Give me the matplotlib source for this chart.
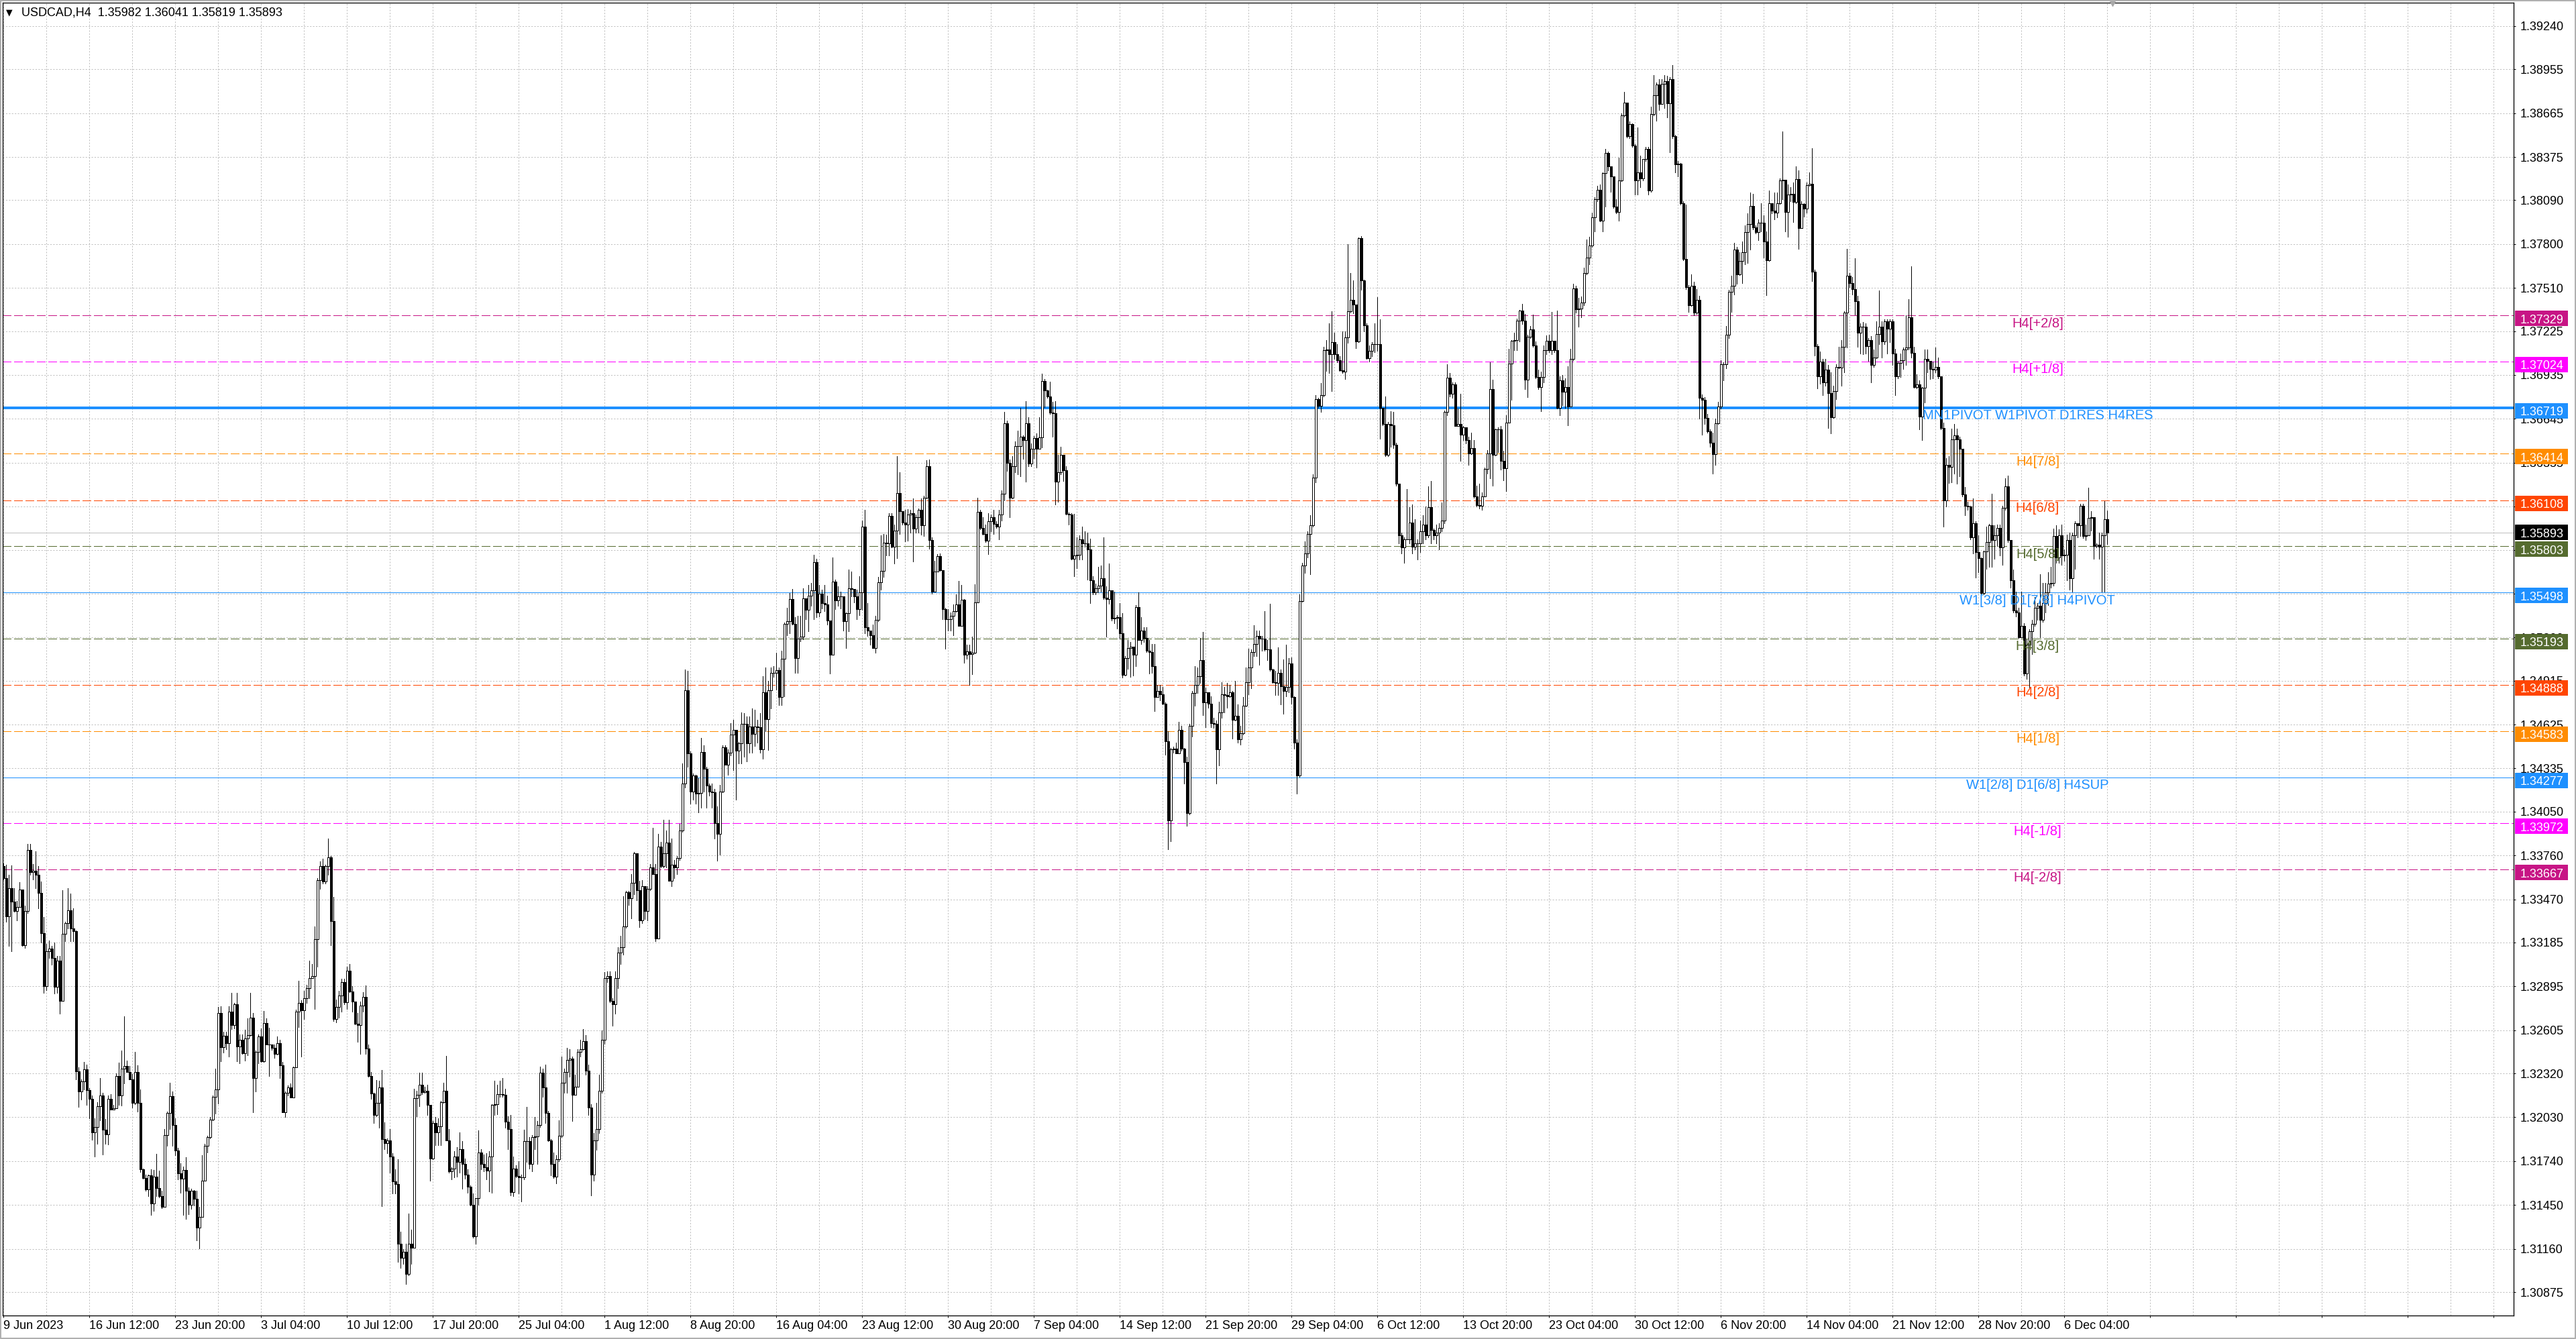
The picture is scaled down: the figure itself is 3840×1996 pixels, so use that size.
import numpy as np
import matplotlib
matplotlib.use("Agg")
import matplotlib.pyplot as plt
from matplotlib.patches import Rectangle
from matplotlib.transforms import IdentityTransform, blended_transform_factory

# ---- data --------------------------------------------------------------
SYMBOL = "USDCAD,H4"
LAST_OHLC = ["1.35982", "1.36041", "1.35819", "1.35893"]
BASE = 1.30000          # all candle values are points (1e-5) above BASE
FIRST_OPEN = 3690

# H4 candles, 10 bars per row
HIGH = [
    3708,3698,3634,3694,3545,3460,3583,3533,3430,3837,
    3837,3704,3787,3688,3587,3351,3177,3197,3163,3183,
    3094,3094,3529,3321,3545,3510,3409,3266,2361,2281,
    2394,2380,2222,2176,2024,2129,2287,2192,2020,2172,
    2182,2113,2321,2390,2470,2697,2404,2371,2315,2460,
    2375,2212,1691,1651,1653,1687,1681,1790,1677,1543,
    1951,2069,2258,2202,2024,1826,1727,1703,1766,1568,
    1558,1548,1544,1440,1780,1855,1909,2034,2176,2351,
    2761,2763,2594,2594,2763,2852,2787,2850,2578,2578,
    2608,2682,2852,2717,2470,2578,2618,2733,2683,2622,
    2513,2509,2563,2543,2396,2202,2242,2252,2365,2741,
    2931,2802,2866,2905,3064,3044,3292,3609,3722,3737,
    3698,3870,3757,3484,2806,2866,2945,2945,3024,3044,
    2896,2796,2717,2796,2856,2899,2509,2331,2192,2278,
    2270,2342,1996,1890,1951,1791,1685,1751,1273,1159,
    1193,1393,1287,2217,2204,2323,2323,2230,2243,2110,
    2004,2031,2025,2137,2257,2437,1951,1698,1805,1831,
    1930,1871,1759,1685,1579,1526,1494,1943,1818,1783,
    1791,1805,2116,2270,2243,2270,2288,2217,2036,2044,
    1770,1712,1738,1651,1946,2097,1897,1911,2031,2004,
    2363,2350,2376,2071,1884,1799,1778,2009,2429,2350,
    2488,2482,2429,2310,2482,2541,2615,2575,2376,2116,
    1924,2124,2310,2602,2988,2993,2993,2815,2993,3152,
    3227,3492,3524,3524,3639,3785,3772,3591,3599,3546,
    3559,3705,3944,3705,3904,3851,3998,3923,3998,3870,
    3732,3758,3971,4370,4990,4981,4449,4303,4295,4269,
    4538,4488,4344,4237,4237,4200,4086,4226,4490,4490,
    4462,4634,4656,4527,4510,4703,4699,4677,4677,4731,
    4725,4656,4699,4946,5000,4914,5000,5011,5101,5000,
    5112,5301,5398,5495,5522,5333,5344,5344,5527,5452,
    5548,5559,5748,5720,5548,5516,5548,5477,5312,5727,
    5581,5538,5505,5473,5366,5651,5634,5510,5516,5606,
    5972,6043,5426,5237,5284,5344,5602,5877,5886,5882,
    6021,6021,5946,6398,6294,5978,6043,6047,6043,6118,
    6011,6054,6118,6135,6370,6376,5860,5705,5752,5757,
    5645,5398,5387,5366,5419,5484,5574,5548,5456,5151,
    5155,5204,5553,6122,6043,5993,5946,6021,6011,6043,
    5968,6043,6172,6692,6634,6376,6398,6494,6569,6716,
    6537,6763,6656,6484,6531,6548,6656,6944,6909,6838,
    6892,6759,6763,6408,6462,6355,6333,6028,6021,6018,
    5864,5877,5931,5904,5891,5855,5606,5557,5668,5674,
    5864,5538,5687,5503,5503,5348,5429,5361,5076,5185,
    5171,5090,5416,5497,5334,5266,5266,5185,5158,5158,
    4887,4887,4873,4773,4580,4471,4479,4507,4642,4615,
    4471,4412,4629,4846,5009,5000,5199,5239,4867,4805,
    4813,4669,4650,4778,4906,4873,4900,4887,4846,4914,
    4759,4615,4805,5000,5125,5123,5280,5247,5247,5212,
    5375,5185,5424,4995,4981,5136,4987,5057,5153,5063,
    5068,4810,4526,5484,5693,5836,5904,6007,6279,6800,
    6786,6881,7120,7166,7275,7356,7212,7139,7058,7221,
    7221,7799,7609,7560,7402,7845,7853,7565,7275,7131,
    7153,7275,7451,7302,6718,6794,6623,6697,6691,6488,
    6216,5891,5864,6181,6062,6081,5980,5850,5972,6007,
    6067,6197,6235,5918,5945,5953,6094,6702,7004,6946,
    6888,6888,6714,6811,6598,6563,6528,6552,6505,6204,
    6215,6157,6324,6440,7020,6904,6580,6587,6598,6436,
    6668,7108,7166,7213,7305,7363,7405,7340,7201,7259,
    7333,7155,6969,6958,7131,7196,7201,7352,7131,7359,
    6927,6934,6911,6992,7108,7537,7526,7445,7452,7642,
    7832,7846,8008,8110,8187,8194,8272,8430,8412,8296,
    8249,8094,8372,8662,8806,8727,8611,8597,8458,8569,
    8384,8361,8442,8442,8708,8917,8866,8889,8889,8917,
    8912,8905,8982,8523,8349,8337,8082,8059,7530,7600,
    7549,7503,7456,6807,6788,6679,6575,6552,6645,6756,
    7034,7020,7259,7498,7591,7809,7781,7746,7816,7925,
    8001,8140,8133,7925,7962,8071,7990,7885,8156,8054,
    8140,8140,8233,8546,8140,8194,8175,8209,8315,8285,
    8083,8071,8209,8272,8431,7630,7140,7090,7039,7039,
    7001,6951,6863,7007,7122,7165,7354,7769,7610,7580,
    7706,7459,7278,7283,7278,7178,7190,7102,7291,7492,
    7291,7303,7303,7303,7303,7107,7027,7077,7115,7328,
    7434,7651,7122,6939,6901,6856,7102,7102,7001,7022,
    7115,7052,6926,6619,6385,6398,6579,6612,6579,6528,
    6435,6196,6096,6071,6121,5970,5874,5731,5774,5932,
    5950,6151,5940,5945,5945,6071,6252,6272,5844,5648,
    5504,5396,5504,5296,5190,5253,5316,5467,5429,5618,
    5562,5562,5630,5668,5920,5940,5915,5945,5781,5882,
    5894,5894,5970,5957,6083,6083,5945,6191,6033,5995,
    5824,5894,5894,6101,6041,
]
LOW = [
    3603,3321,3163,3129,3387,3331,3420,3163,3147,3381,
    3634,3603,3543,3411,3183,2852,2872,3084,3040,2846,
    2850,2713,2802,3193,3276,3193,3193,2281,2097,2147,
    2216,2113,2024,1881,1772,1855,2010,1786,1855,1851,
    2083,2083,2089,2113,2107,2252,2327,2279,2093,2117,
    2069,1667,1624,1543,1509,1386,1410,1509,1499,1430,
    1440,1842,1951,1842,1780,1618,1529,1386,1360,1390,
    1424,1449,1216,1162,1370,1612,1796,1891,2010,2054,
    2119,2400,2458,2480,2430,2612,2618,2400,2386,2450,
    2406,2440,2569,2063,2202,2386,2394,2394,2509,2301,
    2474,2420,2446,2291,2063,2030,2176,2159,2159,2361,
    2628,2430,2678,2787,2816,2951,2747,3024,3539,3575,
    3575,3634,3169,2668,2658,2688,2727,2777,2747,2856,
    2727,2642,2529,2450,2727,2450,2297,2153,1994,2036,
    1959,1441,1818,1791,1664,1526,1526,1074,1034,1060,
    927,986,1060,1167,2036,2105,2185,2190,2044,1611,
    1751,1845,1845,1845,2124,1876,1664,1619,1632,1637,
    1664,1557,1624,1531,1446,1233,1193,1451,1685,1672,
    1619,1539,1531,2044,2049,2164,2164,1959,1818,1513,
    1507,1632,1526,1473,1619,1733,1690,1672,1818,1724,
    1964,2164,1991,1871,1645,1627,1592,1738,1898,2190,
    2190,2296,2004,2177,2302,2429,2477,2310,2044,1513,
    1611,1813,1924,2190,2514,2921,2788,2634,2716,2881,
    3041,3107,3280,3434,3346,3506,3466,3285,3312,3338,
    3333,3532,3639,3195,3213,3679,3679,3679,3594,3559,
    3612,3639,3732,3918,4210,4348,4104,4130,4104,4043,
    4076,4183,4076,4157,4076,3871,3727,3764,4179,4359,
    4295,4420,4323,4129,4366,4366,4413,4381,4441,4441,
    4484,4506,4441,4398,4581,4456,4731,4940,4854,4753,
    4753,4811,5215,5226,5284,4968,4968,5176,5189,5323,
    5241,5409,5323,5333,5338,5391,5376,5284,4961,5086,
    5387,5409,5391,5247,5129,5243,5473,5430,5323,5348,
    5383,5226,5211,5151,5129,5101,5307,5516,5602,5742,
    5742,5796,5688,5725,5886,5946,5834,5838,5892,5703,
    5892,5892,5882,5871,6118,5785,5490,5533,5634,5641,
    5323,5125,5247,5247,5215,5370,5275,5275,5032,5060,
    4886,4957,5097,5430,5914,5882,5832,5752,5903,5886,
    5925,5849,5972,6107,6301,5993,6118,6290,6279,6264,
    6380,6230,6333,6333,6387,6322,6445,6458,6724,6785,
    6677,6527,6079,6096,6279,6236,6011,5946,5714,5606,
    5660,5714,5714,5801,5584,5429,5484,5484,5497,5503,
    5456,5207,5421,5313,5294,5258,5193,4935,4949,4995,
    4941,4949,5009,5185,5158,5171,5104,4960,4968,4716,
    4805,4786,4759,4425,3801,3855,4439,4433,4452,4452,
    4235,3956,4032,4547,4751,4832,4900,4688,4607,4737,
    4607,4601,4235,4357,4669,4705,4737,4805,4534,4650,
    4507,4493,4561,4743,4824,4865,5076,5076,5022,5112,
    5112,5049,4981,4900,4819,4819,4759,4696,4813,4840,
    4764,4466,4167,4281,5437,5627,5728,5619,5931,6224,
    6718,6691,6794,6963,6949,6827,7039,7017,6963,6949,
    6908,7147,7348,7343,7112,7153,7497,7221,7039,7022,
    7058,7085,7093,6515,6604,6398,6398,6461,6453,6203,
    5823,5755,5693,5850,5823,5755,5782,5714,5763,5823,
    5850,5864,5823,5850,5823,5782,5904,5953,6668,6795,
    6784,6598,6598,6366,6505,6482,6343,6413,6123,6065,
    6053,6046,6134,6285,6250,6204,6401,6424,6308,6239,
    6169,6621,6772,7097,7097,7155,7271,6842,6788,7178,
    7120,6911,6842,6696,6888,7074,7085,7074,7085,6714,
    6668,6737,6719,6603,6825,7034,7345,7252,7317,7398,
    7600,7665,7781,7885,8082,7948,7885,8047,8286,8147,
    8040,8001,7955,8217,8643,8504,8500,8442,8129,8129,
    8175,8221,8349,8129,8147,8650,8616,8685,8801,8697,
    8639,8407,8500,8272,8245,8059,7693,7502,7352,7391,
    7329,7340,6645,6540,6610,6552,6459,6285,6343,6610,
    6714,6900,6981,7178,7352,7468,7537,7595,7544,7665,
    7676,7762,7897,7869,7827,7885,7711,7461,7688,8001,
    7962,7978,8064,8094,7885,7850,8082,7945,8071,7769,
    7907,7983,8008,8184,7555,7064,6845,6876,6800,6863,
    6586,6549,6649,6775,6981,6863,6951,7115,7517,7467,
    7334,7122,7077,7072,7077,7027,6888,6989,7047,7140,
    7052,7140,7077,7152,7001,6800,6913,6921,6976,7001,
    7102,7052,6851,6845,6574,6503,6755,6951,6906,6913,
    6951,6913,6574,5932,6065,6222,6227,6284,6217,6267,
    6133,6008,6045,5849,5756,5598,5630,5487,5487,5655,
    5668,5668,5718,5806,5743,5681,6045,5832,5530,5366,
    5341,5195,5203,4951,4926,4863,5089,5278,5316,5203,
    5303,5366,5416,5530,5542,5693,5693,5681,5706,5580,
    5517,5504,5655,5864,5869,5857,5844,5907,5907,5718,
    5794,5718,5504,5504,5819,
]
CLOSE = [
    3609,3357,3545,3456,3391,3420,3533,3167,3391,3797,
    3648,3658,3632,3514,3246,2895,3129,3143,3084,2890,
    3064,2800,3242,3312,3397,3276,3262,2335,2202,2268,
    2347,2208,2153,1931,1964,2103,2172,1950,1915,2153,
    2083,2089,2301,2176,2351,2370,2327,2279,2127,2331,
    2123,1687,1628,1552,1647,1459,1638,1562,1509,1440,
    1911,2058,2168,1980,1810,1661,1624,1681,1544,1453,
    1544,1493,1301,1370,1612,1842,1901,2014,2163,2212,
    2721,2493,2569,2519,2727,2638,2777,2499,2543,2454,
    2549,2575,2687,2291,2460,2565,2400,2654,2509,2509,
    2489,2450,2519,2375,2063,2192,2228,2159,2361,2727,
    2787,2737,2816,2882,2951,2965,3207,3595,3692,3589,
    3688,3747,3327,2678,2757,2836,2925,2790,2999,2860,
    2796,2648,2638,2767,2826,2485,2301,2186,2044,2124,
    2225,1884,1858,1876,1770,1605,1587,1193,1100,1140,
    994,1193,1167,2158,2177,2243,2195,2203,2110,1757,
    1991,1930,1970,2129,2203,1876,1672,1693,1770,1733,
    1818,1724,1650,1571,1451,1241,1494,1799,1724,1698,
    1677,1772,2110,2118,2182,2182,2177,1999,1951,1534,
    1693,1640,1632,1632,1871,1871,1724,1897,1903,1977,
    2323,2225,2057,1876,1720,1637,1751,1906,2257,2331,
    2408,2416,2177,2230,2461,2482,2535,2336,2092,1650,
    1876,1951,2203,2541,2948,2961,2801,2775,2948,3120,
    3152,3293,3519,3479,3580,3772,3532,3333,3559,3392,
    3540,3679,3639,3213,3819,3692,3772,3843,3594,3697,
    3679,3745,3923,4237,4853,4436,4184,4290,4170,4172,
    4445,4334,4222,4183,4179,3972,3904,4183,4473,4361,
    4441,4559,4591,4452,4499,4628,4630,4501,4613,4564,
    4613,4609,4463,4839,4662,4850,4968,4968,4983,4807,
    5060,5290,5307,5456,5290,5065,5194,5204,5458,5383,
    5477,5510,5699,5366,5490,5426,5419,5312,5086,5570,
    5445,5473,5473,5307,5359,5527,5520,5473,5387,5499,
    5935,5269,5247,5215,5129,5316,5563,5641,5826,5821,
    6006,5802,5907,6155,6036,5961,5946,6011,6021,5920,
    5993,6043,5942,6122,6333,5845,5501,5634,5737,5645,
    5387,5323,5323,5344,5376,5419,5275,5452,5086,5108,
    5090,5101,5430,6032,5924,5886,5838,5968,5993,5950,
    5935,6011,6150,6617,6355,6122,6333,6466,6466,6527,
    6505,6617,6350,6445,6516,6445,6522,6896,6832,6795,
    6688,6681,6230,6290,6408,6305,6015,6011,5720,5741,
    5747,5850,5823,5823,5782,5579,5497,5524,5543,5592,
    5462,5456,5511,5326,5329,5334,5226,4954,5063,5131,
    5139,5085,5402,5185,5247,5199,5112,5104,5009,4805,
    4846,4824,4764,4515,3991,4460,4466,4433,4588,4466,
    4379,4040,4615,4832,4886,4946,5049,4770,4838,4764,
    4634,4629,4460,4705,4824,4819,4813,4838,4656,4683,
    4526,4569,4751,4906,5000,5104,5158,5212,5193,5193,
    5123,5123,4987,4906,4900,4968,4878,4846,4873,5030,
    4805,4507,4289,5443,5674,5755,5883,5940,6257,6773,
    6732,6800,7098,7104,7071,7153,7071,7031,6968,6957,
    7185,7356,7432,7402,7158,7837,7560,7261,7044,7093,
    7139,7139,7139,6718,6610,6406,6610,6604,6474,6216,
    5877,5796,5850,5850,5958,5801,5823,5823,5904,5945,
    5877,6062,5910,5877,5891,5926,5972,6691,6918,6811,
    6872,6598,6610,6540,6591,6505,6417,6452,6134,6076,
    6069,6134,6315,6417,6842,6406,6575,6575,6366,6320,
    6621,7011,7159,7166,7294,7359,7294,6904,7189,7236,
    7131,6923,6853,6923,7097,7159,7097,7159,7097,6719,
    6900,6825,6853,6726,7043,7507,7368,7375,7414,7607,
    7711,7792,7978,8094,8157,7955,8268,8402,8314,8245,
    8047,8013,8221,8650,8736,8511,8592,8449,8221,8272,
    8233,8361,8430,8152,8657,8783,8852,8727,8859,8875,
    8732,8889,8511,8326,8333,8071,7700,7514,7398,7526,
    7345,7433,6784,6772,6649,6563,6487,6413,6617,6726,
    7004,7004,7201,7484,7526,7765,7600,7688,7746,7878,
    7932,8054,7908,7878,7943,7943,7816,7693,8071,8020,
    8008,8071,8221,8226,8013,8129,8133,8078,8229,7907,
    8063,8033,8189,8197,7618,7127,6926,7022,6888,6971,
    6813,6654,6830,6989,6984,7122,7349,7593,7542,7500,
    7424,7215,7253,7253,7127,7165,7002,7052,7203,7253,
    7157,7291,7240,7291,7077,6926,7014,7032,7102,7115,
    7316,7082,6855,6871,6662,6850,7039,7027,6976,6971,
    6989,6926,6586,6108,6342,6327,6511,6536,6511,6448,
    6146,6071,6066,5864,5957,5764,5723,5492,5769,5832,
    5940,5844,5874,5925,5794,6058,6201,5844,5580,5379,
    5366,5203,5278,4963,5152,5240,5291,5396,5411,5316,
    5429,5497,5555,5562,5869,5731,5874,5743,5748,5844,
    5592,5874,5957,5940,6071,5869,5874,5990,5995,5806,
    5814,5799,5874,5982,5893,
]

# one label every 32 bars
TIME_LABELS = [
    "9 Jun 2023", "16 Jun 12:00", "23 Jun 20:00", "3 Jul 04:00", "10 Jul 12:00",
    "17 Jul 20:00", "25 Jul 04:00", "1 Aug 12:00", "8 Aug 20:00", "16 Aug 04:00",
    "23 Aug 12:00", "30 Aug 20:00", "7 Sep 04:00", "14 Sep 12:00", "21 Sep 20:00",
    "29 Sep 04:00", "6 Oct 12:00", "13 Oct 20:00", "23 Oct 04:00", "30 Oct 12:00",
    "6 Nov 20:00", "14 Nov 04:00", "21 Nov 12:00", "28 Nov 20:00", "6 Dec 04:00",
]
PRICE_TICKS = [
    "1.39240", "1.38955", "1.38665", "1.38375", "1.38090", "1.37800", "1.37510",
    "1.37225", "1.36935", "1.36645", "1.36355", "1.36065", "1.35780", "1.35490",
    "1.35200", "1.34915", "1.34625", "1.34335", "1.34050", "1.33760", "1.33470",
    "1.33185", "1.32895", "1.32605", "1.32320", "1.32030", "1.31740", "1.31450",
    "1.31160", "1.30875",
]

LEVEL_PRICES = [1.37329, 1.37024, 1.36719, 1.36414, 1.36108, 1.35803, 1.35498,
                1.35193, 1.34888, 1.34583, 1.34277, 1.33972, 1.33667]
LEVEL_NAMES = ["H4[+2/8]", "H4[+1/8]", "MN1PIVOT W1PIVOT D1RES H4RES", "H4[7/8]",
               "H4[6/8]", "H4[5/8]", "W1[3/8] D1[7/8] H4PIVOT", "H4[3/8]",
               "H4[2/8]", "H4[1/8]", "W1[2/8] D1[6/8] H4SUP", "H4[-1/8]", "H4[-2/8]"]
LEVEL_COLORS = ["#C71585", "#FF00FF", "#1E90FF", "#FF8C00", "#FF4500", "#556B2F",
                "#1E90FF", "#556B2F", "#FF4500", "#FF8C00", "#1E90FF", "#FF00FF",
                "#C71585"]
LEVEL_KIND = ["dash", "dash", "pivot", "dash", "dash", "dash", "solid", "dash",
              "dash", "dash", "solid", "dash", "dash"]
LAST_PRICE = 1.35893

# ---- layout ------------------------------------------------------------
W, H = 3840, 1996
PX = 0.72                     # one pixel in points at dpi 100
FONT = ["Liberation Sans", "DejaVu Sans"]
plt.rcParams["font.family"] = FONT

high = BASE + np.array(HIGH) / 1e5
low = BASE + np.array(LOW) / 1e5
close = BASE + np.array(CLOSE) / 1e5
opn = np.concatenate([[BASE + FIRST_OPEN / 1e5], close[:-1]])
high = np.maximum(high, np.maximum(opn, close))
low = np.minimum(low, np.minimum(opn, close))
x = np.arange(len(close))

fig = plt.figure(figsize=(W / 100, H / 100), dpi=100)
fig.patch.set_facecolor("white")
ax = fig.add_axes([4 / W, 1 - 1961 / H, 3743 / W, 1957 / H])
ax.set_xlim(-0.35, 935.4)
ax.set_ylim(1.30720, 1.39395)

# grid
ax.set_axisbelow(True)
ax.set_xticks(np.arange(0, 936, 32))
ax.set_xticks(np.arange(16, 936, 32), minor=True)
ax.set_xticklabels(TIME_LABELS + [""] * (len(np.arange(0, 936, 32)) - len(TIME_LABELS)))
for lbl in ax.get_xticklabels():
    lbl.set_horizontalalignment("left")
ax.yaxis.tick_right()
ax.set_yticks([float(t) for t in PRICE_TICKS])
ax.set_yticklabels(PRICE_TICKS)
ax.grid(True, which="both", color="#C0C0C0", linestyle=(0, (2.2, 2.2)), linewidth=PX)
ax.tick_params(axis="x", which="major", length=2.2, width=PX, pad=2.5,
               labelsize=13, colors="black")
ax.tick_params(axis="x", which="minor", length=0)
ax.tick_params(axis="y", which="major", length=2.2, width=PX, pad=5,
               labelsize=13, colors="black", right=True, left=False)
for sp in ax.spines.values():
    sp.set_color("black")
    sp.set_linewidth(PX * 1.3)

# levels
for p, c, kind in zip(LEVEL_PRICES, LEVEL_COLORS, LEVEL_KIND):
    if kind == "dash":
        ax.axhline(p, color=c, linewidth=PX, linestyle=(0, (13, 4.3)), zorder=1,
                   antialiased=False)
    elif kind == "pivot":
        ax.axhline(p, color=c, linewidth=PX * 2.2, zorder=1, antialiased=False)
    else:
        ax.axhline(p, color=c, linewidth=PX, zorder=1, antialiased=False)
ax.axhline(LAST_PRICE, color="#C0C0C0", linewidth=PX, zorder=1, antialiased=False)

# candles
ax.vlines(x, low, high, color="black", linewidth=PX, zorder=3, antialiased=False)
up = close >= opn
dn = ~up
ax.bar(x[up], (close - opn)[up], bottom=opn[up], width=0.7, facecolor="white",
       edgecolor="black", linewidth=PX, zorder=4, antialiased=False)
ax.bar(x[dn], (close - opn)[dn], bottom=opn[dn], width=0.7, facecolor="black",
       edgecolor="black", linewidth=PX, zorder=4, antialiased=False)

# level captions
LABEL_BAR = 758
for p, c, name in zip(LEVEL_PRICES, LEVEL_COLORS, LEVEL_NAMES):
    ax.annotate(name, xy=(LABEL_BAR, p), xytext=(0, -8.6), textcoords="offset points",
                ha="center", va="center", color=c, fontsize=14.5, zorder=6)

# price tags on the right axis (level tags sit a few pixels under their line)
tag_prices = LEVEL_PRICES + [LAST_PRICE]
tag_colors = LEVEL_COLORS + ["black"]
tag_shift = [-5] * len(LEVEL_PRICES) + [0]
for p, c, dy in zip(tag_prices, tag_colors, tag_shift):
    ypix = ax.transData.transform((0, p))[1] + dy
    fig.add_artist(Rectangle((3749, ypix - 11), 79, 23, facecolor=c, edgecolor="none",
                             transform=IdentityTransform(), zorder=5))
    fig.text(3757, ypix, f"{p:.5f}", transform=IdentityTransform(), ha="left",
             va="center_baseline", color="white", fontsize=13, zorder=6)

# header
fig.text(9, H - 19, "\u25BC", transform=IdentityTransform(), ha="left", va="center",
         fontsize=9, color="black", family=["DejaVu Sans"])
fig.text(32, H - 19, SYMBOL + "  " + " ".join(LAST_OHLC), transform=IdentityTransform(),
         ha="left", va="center", fontsize=13, color="black")

# chart shift marker
shift = blended_transform_factory(ax.transData, ax.transAxes)
ax.plot([len(close) + 1], [1.0], marker="v", markersize=7, color="#A8A8A8",
        transform=shift, clip_on=False, zorder=7)

# window frame
fig.add_artist(Rectangle((1, 1), W - 2, H - 2, facecolor="none", edgecolor="#B0B0B0",
                         linewidth=PX * 2, transform=IdentityTransform(), zorder=8))

fig.savefig("out.png", dpi=100, facecolor="white")
